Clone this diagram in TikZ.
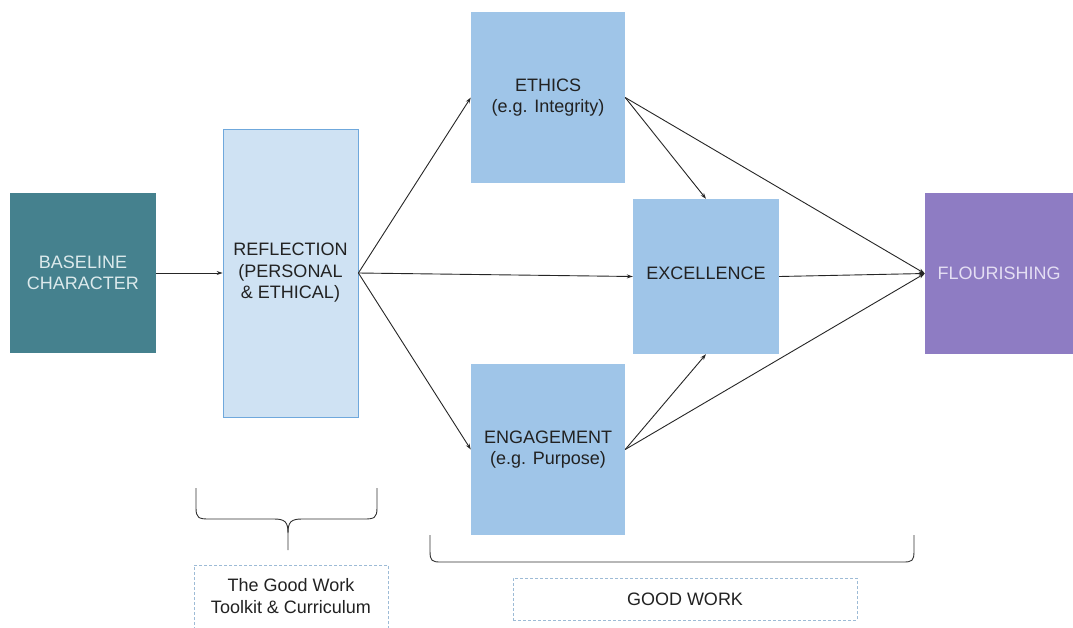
\documentclass[tikz,border=0pt]{standalone}
\usepackage{fontspec}
\setmainfont{Liberation Sans}
\usetikzlibrary{arrows.meta}
\definecolor{teal1}{HTML}{45818E}
\definecolor{tealtxt}{HTML}{DCEAEC}
\definecolor{lblue3}{HTML}{CFE2F3}
\definecolor{lblue2}{HTML}{9FC5E8}
\definecolor{bordblue}{HTML}{6FA8DC}
\definecolor{purp}{HTML}{8E7CC3}
\definecolor{purptxt}{HTML}{E4DEF3}
\definecolor{dashc}{HTML}{9DBBD6}
\definecolor{txt}{HTML}{222222}
\begin{document}
\begin{tikzpicture}[x=1pt,y=-1pt,
  box/.style={rectangle, inner sep=0pt, align=center, text=txt,
    font=\fontsize{18}{21.5}\selectfont},
  conn/.style={draw=black!85, line width=0.9pt, -{Stealth[length=6pt,width=4pt]}},
  brace/.style={draw=black!80, line width=0.9pt},
  dbox/.style={draw=dashc, line width=0.8pt, dash pattern=on 3pt off 2pt}
]
\clip (0,0) rectangle (1073,627);
\fill[white] (0,0) rectangle (1073,627);

\node[box, fill=teal1, text=tealtxt, minimum width=146pt, minimum height=160pt] (base) at (83,273) {BASELINE\\CHARACTER};
\node[box, fill=lblue3, draw=bordblue, line width=0.8pt, minimum width=135pt, minimum height=288pt] (refl) at (290.5,273) {REFLECTION\\(PERSONAL\\\& ETHICAL)};
\node[box, fill=lblue2, minimum width=154pt, minimum height=171pt] (eth) at (548,97.5) {ETHICS\\(e.g. Integrity)};
\node[box, fill=lblue2, minimum width=146pt, minimum height=155pt] (exc) at (706,276.5) {\raisebox{7pt}{EXCELLENCE}};
\node[box, fill=lblue2, minimum width=154pt, minimum height=171pt] (eng) at (548,449.5) {ENGAGEMENT\\(e.g. Purpose)};
\node[box, fill=purp, text=purptxt, minimum width=148pt, minimum height=161pt] (flo) at (999,273.5) {FLOURISHING};

\draw[conn] (base.east) -- (refl.west);
\draw[conn] (refl.east) -- (eth.west);
\draw[conn] (refl.east) -- (exc.west);
\draw[conn] (refl.east) -- (eng.west);
\draw[conn] (eth.east) -- (exc.north);
\draw[conn] (eth.east) -- (flo.west);
\draw[conn] (exc.east) -- (flo.west);
\draw[conn] (eng.east) -- (exc.south);
\draw[conn] (eng.east) -- (flo.west);

% brace under reflection
\draw[brace] (196,488) -- (196,508) .. controls (196,518) and (199,519) .. (209,519)
  -- (274,519) .. controls (285,519) and (288,522) .. (288,533) -- (288,550);
\draw[brace] (377,488) -- (377,508) .. controls (377,518) and (374,519) .. (364,519)
  -- (302,519) .. controls (291,519) and (288,522) .. (288,533);
% bracket under good work boxes
\draw[brace] (430,535) -- (430,551) .. controls (430,561) and (432,562) .. (441,562)
  -- (903,562) .. controls (912,562) and (914,561) .. (914,551) -- (914,535);

\node[box, dbox, minimum width=194pt, minimum height=80pt, anchor=north] (tool) at (291,565) {};
\node[box] (tooltxt) at (291,596) {The Good Work\\Toolkit \& Curriculum};
\node[box, dbox, minimum width=344pt, minimum height=42pt] (gw) at (685,599) {\raisebox{-1.5pt}{GOOD WORK}};
\end{tikzpicture}
\end{document}
